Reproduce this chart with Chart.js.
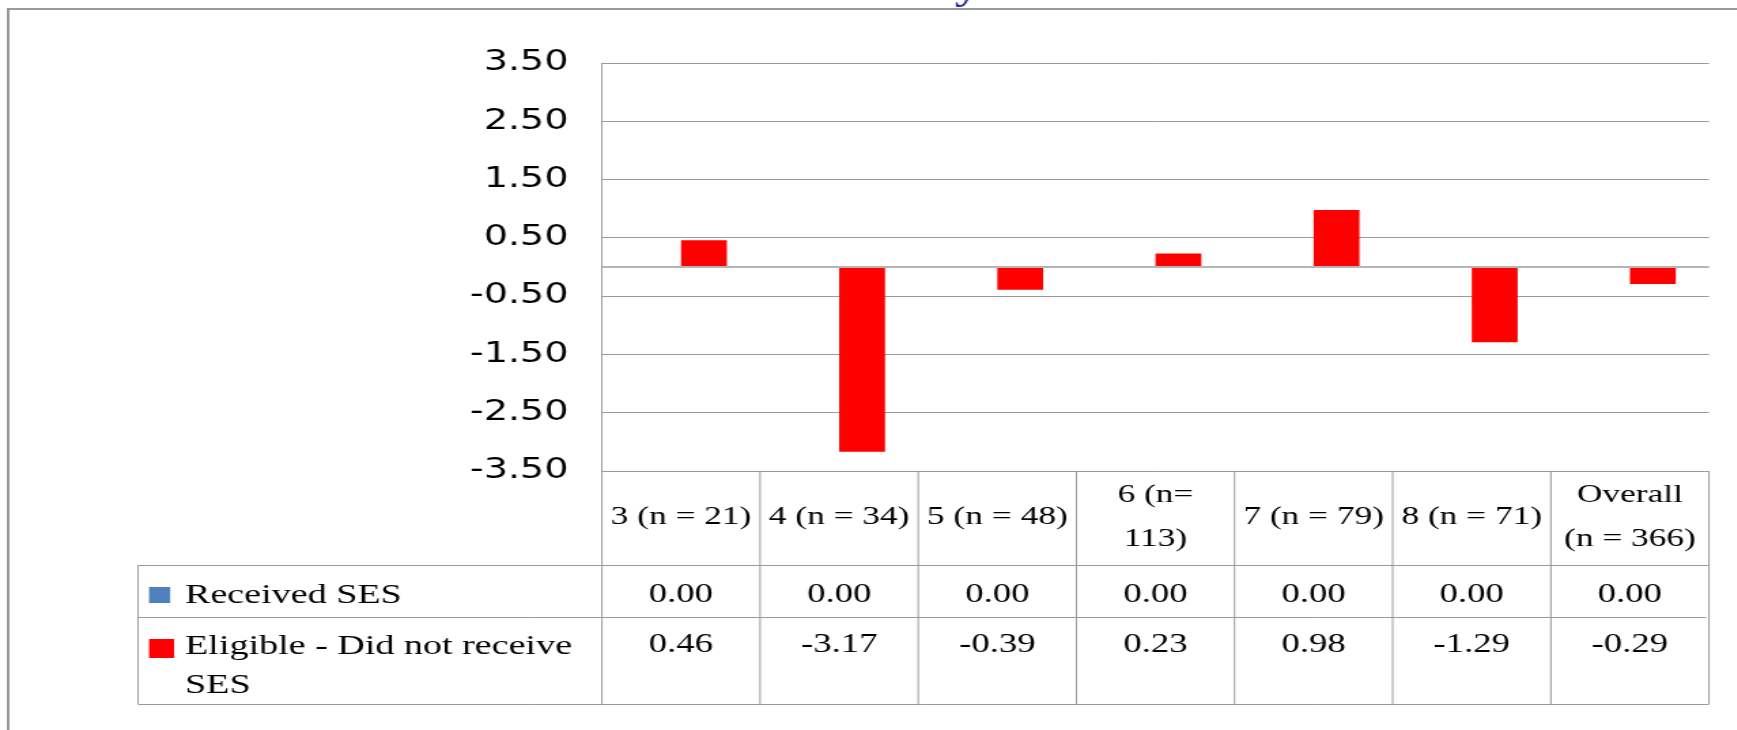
<!DOCTYPE html>
<html>
<head>
<meta charset="utf-8">
<script src="https://cdn.jsdelivr.net/npm/chart.js@4.4.1/dist/chart.umd.min.js"></script>
<style>
  html, body { margin: 0; padding: 0; background: #fff; overflow: hidden; }
  /* the chart is laid out on a narrower canvas and widened horizontally */
  #wrap { position: absolute; left: 0; top: 0; width: 1277px; height: 730px;
          transform: scaleX(1.36); transform-origin: 0 0; }
  canvas { display: block; }
</style>
</head>
<body>
<div id="wrap"><canvas id="chart" width="1277" height="730"></canvas></div>
<script>
// Grade groups (each entry is the list of lines shown in the header cell)
const categories = [
  ['3 (n = 21)'],
  ['4 (n = 34)'],
  ['5 (n = 48)'],
  ['6 (n=', '113)'],
  ['7 (n = 79)'],
  ['8 (n = 71)'],
  ['Overall', '(n = 366)']
];

// Series values
const receivedSES = [0.00, 0.00, 0.00, 0.00, 0.00, 0.00, 0.00];
const eligibleNotReceived = [0.46, -3.17, -0.39, 0.23, 0.98, -1.29, -0.29];

// Series names as printed in the table (lines)
const receivedName = ['Received SES'];
const eligibleName = ['Eligible - Did not receive', 'SES'];

// Value-axis ticks (0 only carries the baseline, no label)
const yTickValues = [3.5, 2.5, 1.5, 0.5, 0, -0.5, -1.5, -2.5, -3.5];

const titleTail = 'y';

const SERIF = '"Liberation Serif", "Times New Roman", serif';
const GRID = '#9a9a9a';

// Table geometry (vertical positions)
const HEADER_BOTTOM = 565;
const ROW1_BOTTOM = 617;
const TABLE_BOTTOM = 704;
const LEGEND_LEFT = 101.5;

function hLine(ctx, x1, x2, y) {
  ctx.beginPath(); ctx.moveTo(x1, y + 0.5); ctx.lineTo(x2, y + 0.5); ctx.stroke();
}
function vLine(ctx, x, y1, y2) {
  ctx.beginPath(); ctx.moveTo(x, y1); ctx.lineTo(x, y2); ctx.stroke();
}

const framePlugin = {
  id: 'frame',
  beforeDraw(chart) {
    const ctx = chart.ctx;
    ctx.save();
    ctx.strokeStyle = '#999';
    ctx.lineWidth = 2;
    ctx.beginPath();
    ctx.moveTo(chart.width, 9);
    ctx.lineTo(6, 9);
    ctx.lineTo(6, chart.height);
    ctx.stroke();
    // descender of the heading text above the frame
    ctx.fillStyle = '#2d2f91';
    ctx.font = 'bold 36px ' + SERIF;
    ctx.textAlign = 'left';
    ctx.textBaseline = 'alphabetic';
    ctx.fillText(titleTail, 702, -1);
    ctx.restore();
  }
};

const tablePlugin = {
  id: 'dataTable',
  afterDraw(chart) {
    const ctx = chart.ctx;
    const ca = chart.chartArea;
    const xs = chart.scales.x;
    const n = categories.length;
    const colW = (ca.right - ca.left) / n;
    const centers = categories.map((_, i) => xs.getPixelForValue(i));

    ctx.save();
    ctx.strokeStyle = GRID;
    ctx.lineWidth = 1;

    // column separators (header + body)
    vLine(ctx, ca.left, ca.bottom, TABLE_BOTTOM);
    centers.forEach(c => vLine(ctx, c + colW / 2, ca.bottom, TABLE_BOTTOM));
    // legend column left edge
    vLine(ctx, LEGEND_LEFT, HEADER_BOTTOM, TABLE_BOTTOM);
    // row separators
    hLine(ctx, LEGEND_LEFT, ca.right, HEADER_BOTTOM);
    hLine(ctx, LEGEND_LEFT, ca.right - 2, ROW1_BOTTOM);
    hLine(ctx, LEGEND_LEFT, ca.right, TABLE_BOTTOM);

    // header labels
    ctx.fillStyle = '#000';
    ctx.font = '26px ' + SERIF;
    ctx.textAlign = 'center';
    ctx.textBaseline = 'middle';
    const headerMid = 517, headerLH = 44;
    categories.forEach((lines, i) => {
      const y0 = headerMid - (lines.length - 1) * headerLH / 2;
      lines.forEach((t, k) => ctx.fillText(t, centers[i], y0 + k * headerLH));
    });

    // value rows
    ctx.font = '27px ' + SERIF;
    receivedSES.forEach((v, i) => ctx.fillText(v.toFixed(2), centers[i], 595));
    eligibleNotReceived.forEach((v, i) => ctx.fillText(v.toFixed(2), centers[i], 645));

    // row headers with colour keys
    const ds = chart.data.datasets;
    ctx.fillStyle = ds[0].backgroundColor;
    ctx.fillRect(109.6, 587, 15.5, 16);
    ctx.fillStyle = ds[1].backgroundColor;
    ctx.fillRect(109.6, 639, 18.4, 19);

    ctx.fillStyle = '#000';
    ctx.font = '28px ' + SERIF;
    ctx.textAlign = 'left';
    receivedName.forEach((t, k) => ctx.fillText(t, 136, 596 + k * 39));
    eligibleName.forEach((t, k) => ctx.fillText(t, 136, 647 + k * 39));

    ctx.restore();
  }
};

new Chart(document.getElementById('chart'), {
  type: 'bar',
  data: {
    labels: categories,
    datasets: [
      {
        label: receivedName.join(' '),
        data: receivedSES,
        backgroundColor: '#4F81BD',
        borderWidth: 0,
        categoryPercentage: 0.58,
        barPercentage: 1.0
      },
      {
        label: eligibleName.join(' '),
        data: eligibleNotReceived,
        backgroundColor: '#FF0000',
        borderWidth: 0,
        categoryPercentage: 0.58,
        barPercentage: 1.0
      }
    ]
  },
  options: {
    responsive: false,
    animation: false,
    devicePixelRatio: 1,
    layout: { padding: { left: 0, top: 63, right: 20.4, bottom: 259 } },
    plugins: {
      legend: { display: false },
      tooltip: { enabled: false },
      title: { display: false }
    },
    scales: {
      x: { display: false },
      y: {
        min: -3.5,
        max: 3.5,
        afterBuildTicks: s => { s.ticks = yTickValues.map(v => ({ value: v })); },
        afterFit: s => { s.width = 442.6; },
        ticks: {
          color: '#000',
          padding: 24.6,
          font: { family: '"DejaVu Sans", Verdana, sans-serif', size: 28 },
          callback: v => (v === 0 ? '' : Number(v).toFixed(2))
        },
        grid: {
          drawTicks: false,
          color: c => (c.tick && c.tick.value === 0 ? '#b5b5b5' : GRID),
          lineWidth: c => (c.tick && c.tick.value === 0 ? 2 : 1)
        },
        border: { display: true, color: GRID, width: 1 }
      }
    }
  },
  plugins: [framePlugin, tablePlugin]
});
</script>
</body>
</html>
